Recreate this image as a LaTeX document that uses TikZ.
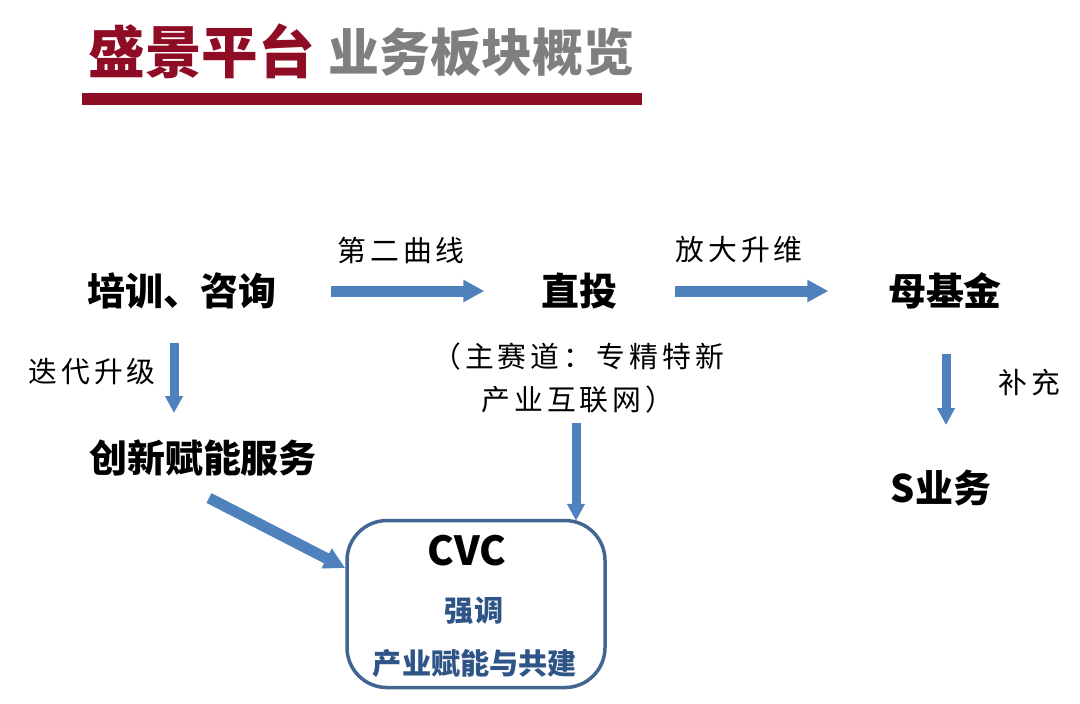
\documentclass[tikz,border=0pt]{standalone}
\usepackage{fontspec}
\setmainfont{Noto Sans CJK SC}[BoldFont={Noto Sans CJK SC Black}]
\newfontfamily\labelfont[LetterSpace=14]{Noto Sans CJK SC}
\usetikzlibrary{arrows.meta,positioning}
\definecolor{titlered}{HTML}{8E0D25}
\definecolor{titlegray}{HTML}{7F7F7F}
\definecolor{flowblue}{HTML}{4F81BD}
\definecolor{boxblue}{HTML}{41668F}
\definecolor{boxtext}{HTML}{2F5586}
\tikzset{
  heading/.style={inner sep=0pt, font=\fontsize{16.1pt}{18pt}\bfseries},
  subheading/.style={inner sep=0pt, font=\fontsize{14.5pt}{16pt}\bfseries, text=titlegray},
  stage/.style={inner sep=0pt, font=\fontsize{10.8pt}{12pt}\bfseries},
  note/.style={inner sep=0pt, font=\fontsize{8.2pt}{12pt}\labelfont},
  flow/.style={draw=flowblue, line width=0.11cm, -{Triangle[length=0.21cm,width=0.21cm]}},
  thinflow/.style={draw=flowblue, line width=0.09cm, -{Triangle[length=0.17cm,width=0.17cm]}},
}
\begin{document}
\begin{tikzpicture}
  \useasboundingbox (0,0) rectangle (10.8,-7.03);
  % title
  \node[heading, text=titlered, anchor=west] (title) at (0.88,-0.515) {盛景平台};
  \node[subheading, anchor=west] (subtitle) at (3.28,-0.525) {业务板块概览};
  \fill[titlered] (0.82,-0.93) rectangle (6.42,-1.05);
  % stages
  \node[stage] (training) at (1.82,-2.91) {培训、咨询};
  \node[stage] (direct) at (5.79,-2.91) {直投};
  \node[stage] (fund) at (9.45,-2.91) {母基金};
  \node[stage] (service) at (2.03,-4.58) {创新赋能服务};
  \node[stage] (sbiz) at (9.41,-4.88) {S业务};
  % notes
  \node[note] (curve) at (4.01,-2.50) {第二曲线};
  \node[note] (scale) at (7.39,-2.50) {放大升维};
  \node[note] (iterate) at (0.92,-3.72) {迭代升级};
  \node[note] (extra) at (10.29,-3.82) {补充};
  \node[note, align=center] (track) at (5.78,-3.78) {（主赛道：专精特新\\[0.2pt]产业互联网）};
  % cvc box
  \node[draw=boxblue, line width=0.035cm, rounded corners=0.4cm, minimum width=2.58cm, minimum height=1.67cm] (cvc) at (4.76,-6.04) {};
  \node[stage, font=\fontsize{11.4pt}{12pt}\bfseries] (cvcname) at (4.67,-5.51) {CVC};
  \node[stage, font=\fontsize{8.3pt}{10pt}\bfseries, text=boxtext] (stress) at (4.74,-6.11) {强调};
  \node[stage, font=\fontsize{8.3pt}{10pt}\bfseries, text=boxtext] (build) at (4.75,-6.64) {产业赋能与共建};
  % arrows
  \coordinate (a) at (1.74,-3.43);
  \coordinate (b) at (1.74,-4.13);
  \coordinate (c) at (9.46,-3.54);
  \coordinate (d) at (9.46,-4.25);
  \coordinate (e) at (5.76,-4.23);
  \coordinate (f) at (2.09,-4.98);
  \draw[flow, shorten <=0.53cm, shorten >=0.56cm] (training.east) -- (direct.west);
  \draw[flow, shorten <=0.57cm, shorten >=0.59cm] (direct.east) -- (fund.west);
  \draw[thinflow] (a) -- (b);
  \draw[thinflow] (c) -- (d);
  \draw[thinflow, shorten >=-0.02cm] (e) -- (e |- cvc.north);
  \draw[flow] (f) -- (cvc.west |- 0,-5.68);
\end{tikzpicture}
\end{document}
